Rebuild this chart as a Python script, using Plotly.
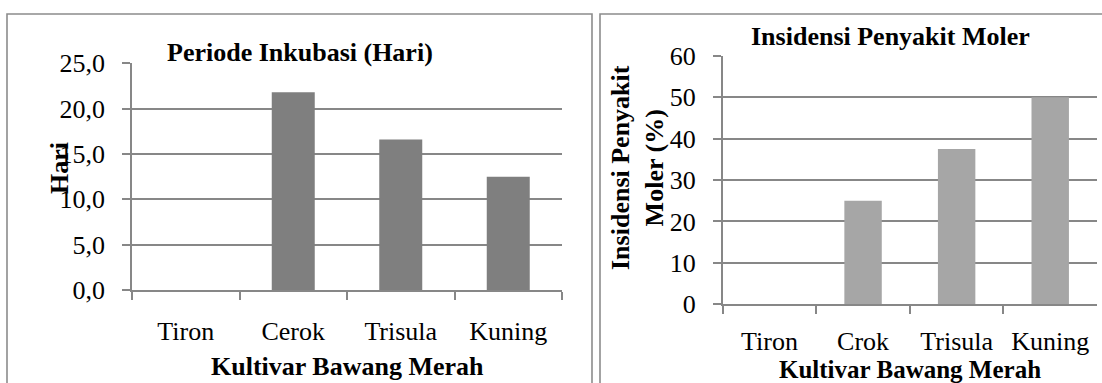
import plotly.graph_objects as go

# Cultivars and measurements
cultivars_left = ["Tiron", "Cerok", "Trisula", "Kuning"]
incubation_days = [0.0, 21.8, 16.6, 12.5]

cultivars_right = ["Tiron", "Crok", "Trisula", "Kuning"]
incidence_pct = [0, 25, 37.5, 50]

left_ticks = [0, 5, 10, 15, 20, 25]
right_ticks = [0, 10, 20, 30, 40, 50, 60]

W, H = 1102, 383
FONT = "Liberation Serif"
GRID = "#878787"


def px(x):
    return x / W


def py(y):
    return 1 - y / H


fig = go.Figure()

fig.add_trace(go.Bar(
    x=cultivars_left, y=incubation_days, width=0.4,
    marker=dict(color="#7f7f7f", line=dict(width=0)),
    xaxis="x", yaxis="y", showlegend=False,
))
fig.add_trace(go.Bar(
    x=cultivars_right, y=incidence_pct, width=0.4,
    marker=dict(color="#a6a6a6", line=dict(width=0)),
    xaxis="x2", yaxis="y2", showlegend=False,
))

common_x = dict(
    type="category", range=[-0.5, 3.5], showgrid=False, showline=True,
    linecolor=GRID, linewidth=1.6, ticks="outside", ticklen=8,
    tickcolor=GRID, tickwidth=1.6, tickson="boundaries",
    tickfont=dict(family=FONT, size=26, color="#000"),
    ticklabelstandoff=17, fixedrange=True, automargin=False,
)
common_y = dict(
    showgrid=True, gridcolor=GRID, gridwidth=1.6, showline=True,
    linecolor=GRID, linewidth=1.6, ticks="outside", ticklen=8,
    tickcolor=GRID, tickwidth=1.6, zeroline=False,
    tickfont=dict(family=FONT, size=26, color="#000"),
    ticklabelstandoff=12, fixedrange=True, automargin=False,
)

fig.update_layout(
    width=W, height=H, margin=dict(l=0, r=0, t=0, b=0, autoexpand=False),
    paper_bgcolor="white", plot_bgcolor="white",
    separators=",.", bargap=0.6,
    xaxis=dict(common_x, domain=[px(132), px(562)], anchor="y"),
    yaxis=dict(common_y, domain=[py(290), py(63.3)], anchor="x",
               range=[0, 25], tickvals=left_ticks, tickformat=".1f"),
    xaxis2=dict(common_x, domain=[px(722.7), px(1097)], anchor="y2",
                ticklabelstandoff=13),
    yaxis2=dict(common_y, domain=[py(304.3), py(55.7)], anchor="x2",
                range=[0, 60], tickvals=right_ticks),
)

# Panel frames
for x0, x1 in [(7, 592), (600, 1180)]:
    fig.add_shape(type="rect", xref="paper", yref="paper",
                  x0=px(x0), x1=px(x1), y0=py(420), y1=py(14),
                  line=dict(color="#8c8c8c", width=1.6), layer="below")


def label(text, x, y, angle=0, size=26):
    fig.add_annotation(
        text=f"<b>{text}</b>", xref="paper", yref="paper",
        x=px(x), y=py(y), xanchor="center", yanchor="middle",
        showarrow=False, textangle=angle, borderpad=0,
        font=dict(family=FONT, size=size, color="#000"),
    )


label("Periode Inkubasi (Hari)", 300, 52)
label("Insidensi Penyakit Moler", 890, 36)
label("Kultivar Bawang Merah", 347, 366)
label("Kultivar Bawang Merah", 910, 369, size=25)
label("Hari", 59, 168, -90)
label("Insidensi Penyakit<br>Moler (%)", 637, 168, -90)

fig.write_html("out.html")
